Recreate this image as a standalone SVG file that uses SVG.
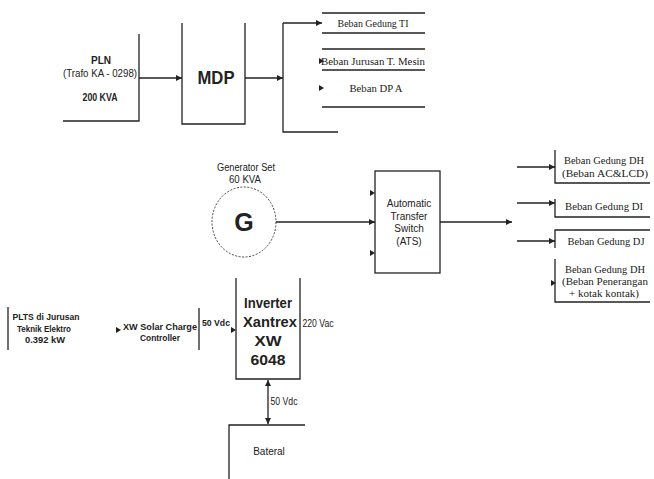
<svg xmlns="http://www.w3.org/2000/svg" xmlns:xlink="http://www.w3.org/1999/xlink" width="654" height="479" viewBox="0 0 654 479">
<style>
.ln{stroke:#222;stroke-width:1.3;fill:none}
.sans{font-family:"Liberation Sans",Arial,sans-serif;fill:#222;text-anchor:middle}
.serif{font-family:"Liberation Serif","Times New Roman",serif;fill:#222;text-anchor:middle;font-size:11px}
.s10{font-size:10px}
.b{font-weight:bold}
</style>
<defs>
<marker id="arr" markerWidth="6" markerHeight="6" refX="6" refY="3" orient="auto" markerUnits="userSpaceOnUse">
<path d="M0,0 L6,3 L0,6 z" fill="#222"/>
</marker>
<marker id="arrs" markerWidth="6" markerHeight="6" refX="6" refY="3" orient="auto-start-reverse" markerUnits="userSpaceOnUse">
<path d="M0,0 L6,3 L0,6 z" fill="#222"/>
</marker>
<path id="ah" d="M-5,-3 L0,0 L-5,3 z" fill="#222"/>
</defs>
<rect width="654" height="479" fill="#fff"/>

<g id="pln">
<path class="ln" d="M139,34 V121 H63"/>
<text class="sans b s10" x="101" y="64">PLN</text>
<text class="sans s10" x="100" y="77" textLength="74" lengthAdjust="spacingAndGlyphs">(Trafo KA - 0298)</text>
<text class="sans b s10" x="100" y="101" textLength="35" lengthAdjust="spacingAndGlyphs">200 KVA</text>
</g>

<g id="mdp">
<path class="ln" d="M182,23 V124 H245 V23"/>
<text class="sans b" x="216" y="84" font-size="19" textLength="37" lengthAdjust="spacingAndGlyphs">MDP</text>
</g>

<g id="dist">
<path class="ln" d="M283,23 V132 H338"/>
</g>

<g id="beban-top">
<path class="ln" d="M322,13 H425 M322,33 H425 M322,49 H425 M322,70 H425 M322,107 H425"/>
<text class="serif" x="373" y="27" textLength="71" lengthAdjust="spacingAndGlyphs">Beban Gedung TI</text>
<text class="serif" x="373" y="65" textLength="104" lengthAdjust="spacingAndGlyphs">Beban Jurusan T. Mesin</text>
<text class="serif" x="376" y="92" textLength="53" lengthAdjust="spacingAndGlyphs">Beban DP A</text>
<use xlink:href="#ah" x="324" y="61"/>
<use xlink:href="#ah" x="324" y="88"/>
</g>

<g id="genset">
<ellipse cx="244" cy="222" rx="32" ry="35" fill="none" stroke="#444" stroke-width="1" stroke-dasharray="2,1.5"/>
<text class="sans b" x="244" y="231" font-size="25">G</text>
<text class="sans s10" x="246" y="171" textLength="58" lengthAdjust="spacingAndGlyphs">Generator Set</text>
<text class="sans s10" x="245" y="183" textLength="32" lengthAdjust="spacingAndGlyphs">60 KVA</text>
</g>

<g id="ats">
<rect class="ln" x="375" y="171" width="65" height="102"/>
<text class="sans s10" x="409" y="207">Automatic</text>
<text class="sans s10" x="409" y="220">Transfer</text>
<text class="sans s10" x="409" y="232">Switch</text>
<text class="sans s10" x="409" y="245">(ATS)</text>
<use xlink:href="#ah" x="375" y="193"/>
<use xlink:href="#ah" x="375" y="253"/>
</g>

<g id="beban-right">
<path class="ln" d="M555,150 V183 H650"/>
<text class="serif" x="604" y="164" textLength="80" lengthAdjust="spacingAndGlyphs">Beban Gedung DH</text>
<text class="serif" x="605" y="177" textLength="86" lengthAdjust="spacingAndGlyphs">(Beban AC&amp;LCD)</text>
<path class="ln" d="M555,199 V217 H650"/>
<text class="serif" x="604" y="210" textLength="78" lengthAdjust="spacingAndGlyphs">Beban Gedung DI</text>
<path class="ln" d="M650,230 H555 V248"/>
<text class="serif" x="606" y="245" textLength="77" lengthAdjust="spacingAndGlyphs">Beban Gedung DJ</text>
<path class="ln" d="M555,259 V302 H650"/>
<text class="serif" x="605" y="273" font-size="10" textLength="80" lengthAdjust="spacingAndGlyphs">Beban Gedung DH</text>
<text class="serif" x="605" y="285" font-size="10" textLength="86" lengthAdjust="spacingAndGlyphs">(Beban Penerangan</text>
<text class="serif" x="604" y="297" font-size="10" textLength="70" lengthAdjust="spacingAndGlyphs">+ kotak kontak)</text>
<use xlink:href="#ah" x="556" y="283"/>
</g>

<g id="plts">
<path class="ln" d="M8,307 V350"/>
<text class="sans b" x="46" y="320" font-size="9" textLength="67" lengthAdjust="spacingAndGlyphs">PLTS di Jurusan</text>
<text class="sans b" x="44" y="332" font-size="9" textLength="54" lengthAdjust="spacingAndGlyphs">Teknik Elektro</text>
<text class="sans b" x="45" y="343" font-size="9" textLength="40" lengthAdjust="spacingAndGlyphs">0.392 kW</text>
</g>

<g id="controller">
<path class="ln" d="M199,308 V350"/>
<use xlink:href="#ah" x="121" y="330"/>
<text class="sans b" x="160" y="330" font-size="9.5" textLength="74" lengthAdjust="spacingAndGlyphs">XW Solar Charge</text>
<text class="sans b" x="160" y="341" font-size="9.5" textLength="40" lengthAdjust="spacingAndGlyphs">Controller</text>
<text class="sans b" x="216" y="326" font-size="9" textLength="28" lengthAdjust="spacingAndGlyphs">50 Vdc</text>
<use xlink:href="#ah" x="236" y="330"/>
</g>

<g id="inverter">
<path class="ln" d="M236,278 V379 H300 V278"/>
<text class="sans b" x="268" y="308" font-size="15.5" textLength="48" lengthAdjust="spacingAndGlyphs">Inverter</text>
<text class="sans b" x="270" y="327" font-size="15.5" textLength="54" lengthAdjust="spacingAndGlyphs">Xantrex</text>
<text class="sans b" x="268" y="346" font-size="15.5" textLength="27" lengthAdjust="spacingAndGlyphs">XW</text>
<text class="sans b" x="268" y="365" font-size="15.5" textLength="35" lengthAdjust="spacingAndGlyphs">6048</text>
<text class="sans s10" x="318" y="327" textLength="31" lengthAdjust="spacingAndGlyphs">220 Vac</text>
</g>

<g id="baterai">
<path class="ln" d="M305,425 H229 V479"/>
<text class="sans s10" x="269" y="455">Bateral</text>
</g>

<g id="connectors">
<path class="ln" d="M139,78 H182" marker-end="url(#arr)"/>
<path class="ln" d="M245,78 H283" marker-end="url(#arr)"/>
<path class="ln" d="M283,23 H322" marker-end="url(#arr)"/>
<path class="ln" d="M276,222 H375" marker-end="url(#arr)"/>
<path class="ln" d="M440,222 H512" marker-end="url(#arr)"/>
<path class="ln" d="M517,167 H555" marker-end="url(#arr)"/>
<path class="ln" d="M517,203 H555" marker-end="url(#arr)"/>
<path class="ln" d="M517,241 H555" marker-end="url(#arr)"/>
<path class="ln" d="M268,380 V424" marker-start="url(#arrs)" marker-end="url(#arrs)"/>
<text class="sans s10" x="284" y="405" textLength="27" lengthAdjust="spacingAndGlyphs">50 Vdc</text>
</g>
</svg>
